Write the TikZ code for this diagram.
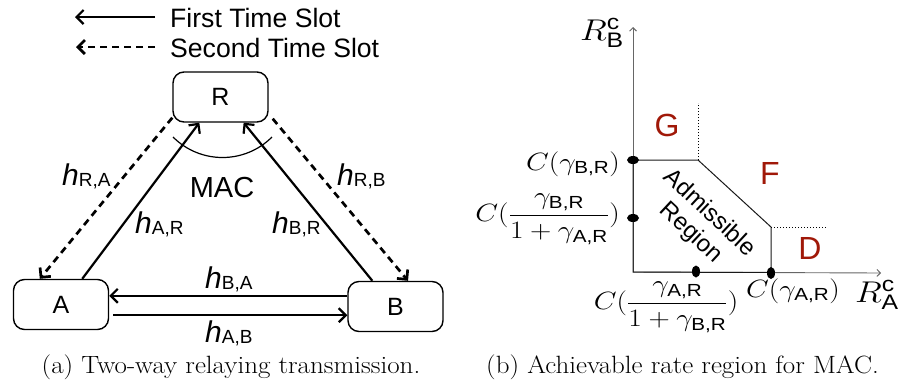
\documentclass[tikz,border=0pt]{standalone}
\usepackage{fix-cm}
\usepackage{amsmath}
\usepackage{graphicx}
\usepackage{fontspec}
\setsansfont{Liberation Sans}
\usetikzlibrary{arrows.meta,calc}
\definecolor{regred}{RGB}{160,24,8}
\newcommand\hsub[1]{{\itshape h}\raisebox{-1pt}{\fontsize{19}{19}\selectfont #1}}
\newcommand\wide[1]{\scalebox{1.18}[1]{#1}}
\begin{document}
\begin{tikzpicture}[x=1pt,y=-1pt,
  box/.style={draw,line width=1.4pt,rounded corners=11pt,minimum width=95pt,minimum height=50pt,inner sep=0pt,font=\sffamily\fontsize{25}{25}\selectfont},
  link/.style={line width=2.2pt,-{Straight Barb[length=7pt,width=14pt]}},
  dlink/.style={link,line width=2.7pt,dash pattern=on 7pt off 5pt},
  legtext/.style={anchor=base west,inner sep=0pt,font=\sffamily\fontsize{26.6}{30}\selectfont},
  hlab/.style={anchor=base west,inner sep=0pt,font=\sffamily\fontsize{30}{30}\selectfont},
  axis/.style={line width=0.9pt,black!60,-{Straight Barb[length=3.5pt,width=7pt]}},
  region/.style={line width=1pt,black!90},
  guide/.style={line width=0.8pt,dash pattern=on 1.2pt off 1.8pt},
  mlab/.style={inner sep=0pt,font=\fontsize{25}{29}\selectfont},
  rlab/.style={inner sep=0pt,font=\fontsize{30}{34}\selectfont},
  zone/.style={inner sep=0pt,text=regred,font=\sffamily\fontsize{32}{32}\selectfont},
  capt/.style={anchor=base,inner sep=0pt,font=\rmfamily\fontsize{25}{29}\selectfont}
]
\useasboundingbox (0,0) rectangle (904,389);

% ---------- legend ----------
\coordinate (l1s) at (155,17);
\coordinate (l1e) at (75,17);
\coordinate (l2s) at (155,47);
\coordinate (l2e) at (76,47);
\draw[link] (l1s) -- (l1e);
\draw[dlink] (l2s) -- (l2e);
\node[legtext] (t1) at (170,27) {First Time Slot};
\node[legtext] (t2) at (170,57) {Second Time Slot};

% ---------- nodes ----------
\node[box] (R) at (220.5,97) {R};
\node[box] (A) at (61,304.5) {A};
\node[box] (B) at (395.5,306.5) {B};

% ---------- links ----------
\draw[link] ($(A.north west)!0.72!(A.north east)$) -- ($(R.south west)!0.28!(R.south east)$);
\draw[link] ($(B.north west)!0.26!(B.north east)$) -- ($(R.south west)!0.74!(R.south east)$);
\draw[dlink] ($(R.south west)+(0,-5)$) -- ($(A.north west)!0.28!(A.north east)$);
\draw[dlink] ($(R.south east)+(4,-4)$) -- ($(B.north west)!0.63!(B.north east)$);
\coordinate (ba) at ($(B.north west)+(0,15)$);
\draw[link] (ba) -- (ba -| A.east);
\coordinate (ab) at ($(A.south east)+(4,-15)$);
\draw[link] (ab) -- (ab -| B.west);

% MAC arc
\draw[line width=1.2pt] ($(R.center)+(-47.5,40)$) arc[start angle=135,end angle=45,radius=70];
\node[anchor=base,inner sep=0pt,font=\sffamily\fontsize{29}{29}\selectfont] (mac) at (222,197) {MAC};

% channel labels
\node[hlab] (hRA) at (62,185) {\hsub{R,A}};
\node[hlab] (hRB) at (337,185) {\hsub{R,B}};
\node[hlab] (hAR) at (135,233) {\hsub{A,R}};
\node[hlab] (hBR) at (272,233) {\hsub{B,R}};
\node[hlab] (hBA) at (205,288) {\hsub{B,A}};
\node[hlab] (hAB) at (205,342) {\hsub{A,B}};

\node[capt] (capa) at (231,373) {\scalebox{1.08}[1]{(a) Two-way relaying transmission.}};

% ---------- right panel ----------
\coordinate (O) at (633,272);
\coordinate (Ytop) at (633,27);
\coordinate (Xend) at (881,273);
\draw[axis] (O) -- (Ytop);
\draw[axis] (O) -- (Xend);

\coordinate (P1) at (633,160);
\coordinate (P2) at (698,160);
\coordinate (P3) at (771,227);
\coordinate (P4) at (771,272.5);
\draw[region] (O) -- (P1) -- (P2) -- (P3) -- (P4) -- cycle;
\draw[guide] (P2) -- (698,103);
\draw[guide] (P3) -- (826,227);

\fill (P1) ellipse [x radius=6, y radius=4];
\fill (633,218) ellipse [x radius=6, y radius=4];
\fill (696,271.5) ellipse [x radius=4, y radius=6];
\fill (771,273) ellipse [x radius=4, y radius=6];

\node[mlab,anchor=base east] (cB) at (620,170) {\wide{$C(\gamma_{\textsf{B,R}})$}};
\node[mlab,anchor=east] (cBf) at (620,219) {\wide{$C(\dfrac{\gamma_{\textsf{B,R}}}{1+\gamma_{\textsf{A,R}}})$}};
\node[mlab] (cAf) at (666,307) {\wide{$C(\dfrac{\gamma_{\textsf{A,R}}}{1+\gamma_{\textsf{B,R}}})$}};
\node[mlab,anchor=base] (cA) at (793,297) {\wide{$C(\gamma_{\textsf{A,R}})$}};

\node[rlab,anchor=base west] (RB) at (580,40) {\wide{$R^{\textsf{c}}_{\textsf{B}}$}};
\node[rlab,anchor=base west] (RA) at (855,302) {\wide{$R^{\textsf{c}}_{\textsf{A}}$}};

\node[zone] (G) at (667,125) {G};
\node[zone] (F) at (770,173) {F};
\node[zone] (D) at (810,248) {D};

\node[inner sep=0pt,rotate=-43,align=center,font=\sffamily\fontsize{24}{27}\selectfont] (adm) at (700,223) {Admissible\\Region};

\node[capt] (capb) at (682.5,373) {\scalebox{1.08}[1]{(b) Achievable rate region for MAC.}};
\end{tikzpicture}
\end{document}
